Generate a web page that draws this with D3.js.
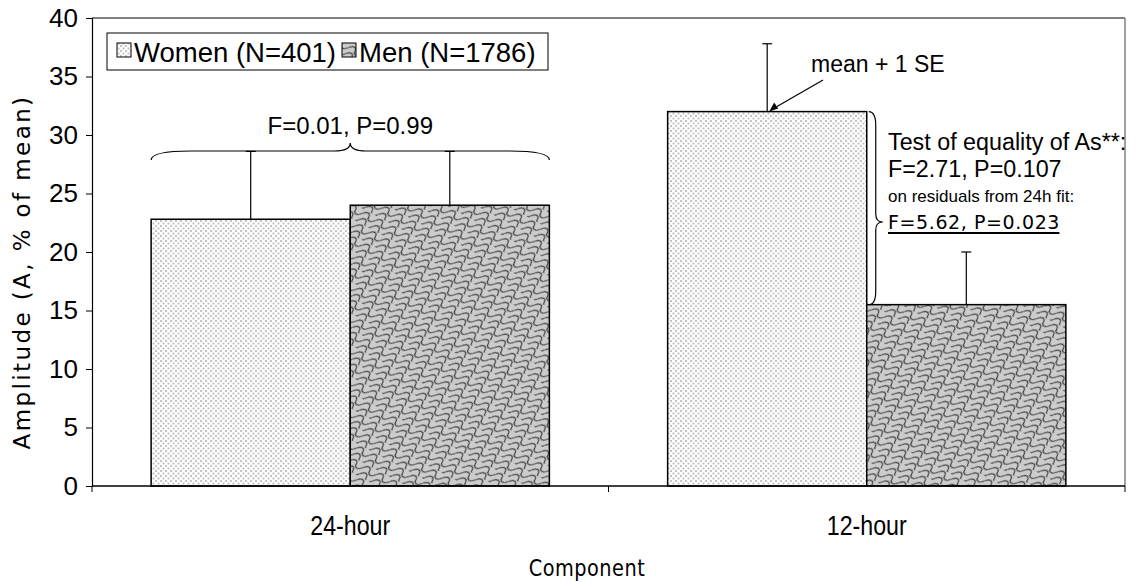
<!DOCTYPE html>
<html><head><meta charset="utf-8">
<script src="https://cdn.jsdelivr.net/npm/d3@7"></script>
<style>body{margin:0;background:#fff}svg{display:block}</style>
</head><body>
<svg id="c" width="1141" height="582"></svg>
<script>
const categories = ["24-hour", "12-hour"];
const seriesNames = ["Women (N=401)", "Men (N=1786)"];
const womenMean = [22.8, 32.0];
const womenSE = [5.8, 5.8];
const menMean = [24.0, 15.5];
const menSE = [4.6, 4.5];
const yTicks = [0, 5, 10, 15, 20, 25, 30, 35, 40];

const svg = d3.select("#c");
const M = {l: 92, r: 1125, t: 18, b: 486};
const y = d3.scaleLinear().domain([0, 40]).range([M.b, M.t]);
const x0 = d3.scaleBand().domain(categories).range([M.l, M.r]).paddingInner(0).paddingOuter(0);
const x1 = d3.scaleBand().domain(["w", "m"]).range([0, x0.bandwidth()]).paddingInner(0).paddingOuter(0.297);

const defs = svg.append("defs");
const pw = defs.append("pattern").attr("id", "pw").attr("patternUnits", "userSpaceOnUse").attr("width", 5).attr("height", 5);
pw.append("rect").attr("width", 5).attr("height", 5).attr("fill", "#fff");
pw.append("rect").attr("x", 0).attr("y", 0).attr("width", 2).attr("height", 2).attr("fill", "#c4c4c4");
pw.append("rect").attr("x", 2.5).attr("y", 2.5).attr("width", 2).attr("height", 2).attr("fill", "#c4c4c4");
const pm = defs.append("pattern").attr("id", "pm").attr("patternUnits", "userSpaceOnUse").attr("width", 15).attr("height", 14).attr("patternTransform", "rotate(28)");
pm.append("rect").attr("width", 15).attr("height", 14).attr("fill", "#cccccc");
pm.append("path").attr("d", "M0,4.5 C3.5,0 7.5,0 7.5,4.5 C7.5,9 11.5,9 15,4.5 M7.5,4.5 L7.5,7 M0,11.5 C3.5,7 7.5,7 7.5,11.5 C7.5,16 11.5,16 15,11.5")
  .attr("fill", "none").attr("stroke", "#3c3c3c").attr("stroke-width", 1.1);

const series = [
  {key: "w", vals: womenMean, se: womenSE, fill: "url(#pw)"},
  {key: "m", vals: menMean, se: menSE, fill: "url(#pm)"}
];

// frame
svg.append("line").attr("x1", M.l).attr("x2", M.r).attr("y1", M.t).attr("y2", M.t).attr("stroke", "#000").attr("stroke-width", 1.2);
svg.append("line").attr("x1", M.r).attr("x2", M.r).attr("y1", M.t).attr("y2", M.b).attr("stroke", "#808080").attr("stroke-width", 1.5);

// bars
series.forEach(s => {
  svg.append("g").selectAll("rect").data(categories).join("rect")
    .attr("x", c => x0(c) + x1(s.key))
    .attr("width", x1.bandwidth())
    .attr("y", (c, i) => y(s.vals[i]))
    .attr("height", (c, i) => y(0) - y(s.vals[i]))
    .attr("fill", s.fill).attr("stroke", "#000").attr("stroke-width", 1.5);
  const g = svg.append("g");
  categories.forEach((c, i) => {
    const cx = x0(c) + x1(s.key) + x1.bandwidth() / 2;
    g.append("line").attr("x1", cx).attr("x2", cx).attr("y1", y(s.vals[i])).attr("y2", y(s.vals[i] + s.se[i])).attr("stroke", "#000").attr("stroke-width", 1.2);
    g.append("line").attr("x1", cx - 5).attr("x2", cx + 5).attr("y1", y(s.vals[i] + s.se[i])).attr("y2", y(s.vals[i] + s.se[i])).attr("stroke", "#000").attr("stroke-width", 1.2);
  });
});

// axes
const ya = svg.append("g").attr("transform", `translate(${M.l},0)`)
  .call(d3.axisLeft(y).tickValues(yTicks).tickSize(6).tickPadding(8));
ya.select(".domain").attr("stroke", "#000").attr("stroke-width", 1.2);
ya.selectAll("text").attr("font-family", "Liberation Sans, Arial, sans-serif").attr("font-size", 26).attr("fill", "#000");
svg.append("line").attr("x1", M.l).attr("x2", M.r).attr("y1", M.b).attr("y2", M.b).attr("stroke", "#000").attr("stroke-width", 1.5);
[M.l, x0(categories[1]), M.r].forEach(px => svg.append("line").attr("x1", px).attr("x2", px).attr("y1", M.b).attr("y2", M.b + 6).attr("stroke", "#000"));
// category labels (narrow, tall lettering)
svg.append("g").selectAll("text").data(categories).join("text")
  .attr("transform", c => `translate(${x0(c) + x0.bandwidth() / 2},535) scale(0.86,1)`)
  .attr("text-anchor", "middle").attr("font-family", "Liberation Sans, Arial, sans-serif").attr("font-size", 27).text(c => c);

svg.append("text").attr("transform", "translate(587,576) scale(0.84,1)").attr("text-anchor", "middle")
  .attr("font-family", "DejaVu Sans, sans-serif").attr("font-size", 23).attr("letter-spacing", 0.6).text("Component");
svg.append("text").attr("transform", `translate(30,${(M.t + M.b) / 2 + 20}) rotate(-90)`).attr("text-anchor", "middle")
  .attr("font-family", "DejaVu Sans, sans-serif").attr("font-size", 23).attr("letter-spacing", 2.4).text("Amplitude (A, % of mean)");

// legend
const lg = svg.append("g");
lg.append("rect").attr("x", 107).attr("y", 33).attr("width", 441).attr("height", 37).attr("fill", "#fff").attr("stroke", "#000").attr("stroke-width", 1);
lg.append("rect").attr("x", 117).attr("y", 43).attr("width", 14).attr("height", 14).attr("fill", "url(#pw)").attr("stroke", "#000");
lg.append("text").attr("x", 134).attr("y", 62).attr("font-family", "Liberation Sans, Arial, sans-serif").attr("font-size", 27.5).text(seriesNames[0]);
lg.append("rect").attr("x", 342).attr("y", 43).attr("width", 14).attr("height", 14).attr("fill", "url(#pm)").attr("stroke", "#000");
lg.append("text").attr("x", 359).attr("y", 62).attr("font-family", "Liberation Sans, Arial, sans-serif").attr("font-size", 27.5).text(seriesNames[1]);

// 24-hour brace
const bx1 = x0(categories[0]) + x1("w"), bx2 = x0(categories[0]) + x1("m") + x1.bandwidth();
const bm = (bx1 + bx2) / 2, by = 151;
svg.append("path").attr("d", `M${bx1},${by + 9} Q${bx1},${by} ${bx1 + 40},${by} L${bm - 16},${by} Q${bm},${by} ${bm},${by - 8} Q${bm},${by} ${bm + 16},${by} L${bx2 - 40},${by} Q${bx2},${by} ${bx2},${by + 9}`)
  .attr("fill", "none").attr("stroke", "#000").attr("stroke-width", 1.2);
svg.append("text").attr("x", bm).attr("y", 134).attr("text-anchor", "middle").attr("font-family", "Liberation Sans, Arial, sans-serif").attr("font-size", 24).text("F=0.01, P=0.99");

// mean + 1 SE
const wx12 = x0(categories[1]) + x1("w") + x1.bandwidth() / 2;
svg.append("text").attr("x", 811).attr("y", 72).attr("font-family", "Liberation Sans, Arial, sans-serif").attr("font-size", 23).text("mean + 1 SE");
svg.append("line").attr("x1", 823).attr("y1", 80).attr("x2", 777).attr("y2", y(womenMean[1]) - 5).attr("stroke", "#000").attr("stroke-width", 1.2);
svg.append("path").attr("d", `M${wx12 + 2},${y(womenMean[1])} l9,-3 l-4,-6 z`).attr("fill", "#000");

// 12-hour vertical brace
const vx = x0(categories[1]) + x1("m") + 2;
const vt = y(womenMean[1]), vb = y(menMean[1]), vm = 222;
svg.append("path").attr("d", `M${vx},${vt} Q${vx + 7},${vt} ${vx + 7},${vt + 14} L${vx + 7},${vm - 8} Q${vx + 7},${vm} ${vx + 14},${vm} Q${vx + 7},${vm} ${vx + 7},${vm + 8} L${vx + 7},${vb - 14} Q${vx + 7},${vb} ${vx},${vb}`)
  .attr("fill", "none").attr("stroke", "#000").attr("stroke-width", 1.2);
const tx = 888;
svg.append("text").attr("x", tx).attr("y", 150).attr("font-family", "Liberation Sans, Arial, sans-serif").attr("font-size", 23.3).text("Test of equality of As**:");
svg.append("text").attr("x", tx).attr("y", 177).attr("font-family", "Liberation Sans, Arial, sans-serif").attr("font-size", 23.3).text("F=2.71, P=0.107");
svg.append("text").attr("x", tx).attr("y", 202).attr("font-family", "Liberation Sans, Arial, sans-serif").attr("font-size", 17).text("on residuals from 24h fit:");
const t4 = svg.append("text").attr("x", tx).attr("y", 229).attr("font-family", "DejaVu Sans, sans-serif").attr("font-size", 19).attr("letter-spacing", 0.6).text("F=5.62, P=0.023");
const bb = t4.node().getBBox();
svg.append("line").attr("x1", tx).attr("x2", bb.x + bb.width - 0.6).attr("y1", 233).attr("y2", 233).attr("stroke", "#000").attr("stroke-width", 2);
</script>
</body></html>
